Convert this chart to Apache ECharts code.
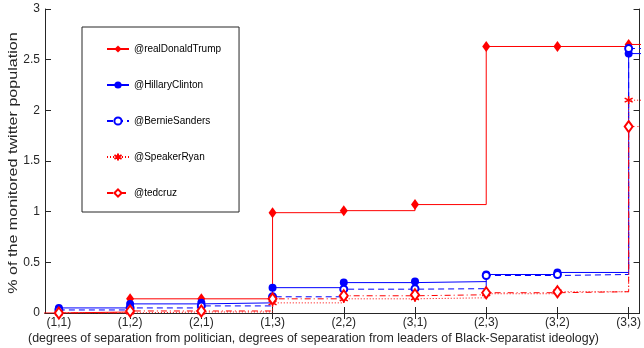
<!DOCTYPE html>
<html>
<head>
<meta charset="utf-8">
<script src="https://cdn.jsdelivr.net/npm/echarts@6/dist/echarts.min.js"></script>
<style>html,body{margin:0;padding:0;background:#fff;}#c{width:644px;height:348px;}</style>
</head>
<body>
<div id="c"></div>
<script>
var categories = ['(1,1)','(1,2)','(2,1)','(1,3)','(2,2)','(3,1)','(2,3)','(3,2)','(3,3)'];
var seriesNames = ['@realDonaldTrump','@HillaryClinton','@BernieSanders','@SpeakerRyan','@tedcruz'];
var trump   = [0.01, 0.14, 0.14, 0.99, 1.01, 1.07, 2.63, 2.63, 2.65];
var hillary = [0.05, 0.09, 0.10, 0.25, 0.30, 0.31, 0.38, 0.40, 2.56];
var bernie  = [0.03, 0.05, 0.07, 0.16, 0.235, 0.24, 0.37, 0.38, 2.61];
var ryan    = [0.00, 0.01, 0.01, 0.10, 0.14, 0.15, 0.19, 0.21, 2.10];
var cruz    = [0.00, 0.02, 0.02, 0.14, 0.17, 0.18, 0.20, 0.21, 1.84];
var yTicks = [0, 0.5, 1, 1.5, 2, 2.5, 3];
var xTitle = '(degrees of separation from politician, degrees of sepearation from leaders of Black-Separatist ideology)';
var yTitle = '% of the monitored twitter population';

var axisCol = '#262626';
var font = 'Liberation Sans, Arial, Helvetica, sans-serif';

function stairData(vals, lead) {
  var d = [];
  if (lead !== undefined) d.push({value: [0, lead], symbol: 'none'});
  vals.forEach(function (v, i) { d.push([i + 1, v]); });
  d.push({value: [vals.length + 1, vals[vals.length - 1]], symbol: 'none'});
  return d;
}

var asterisk = 'path://M0,-5L0,5M-4.33,-2.5L4.33,2.5M-4.33,2.5L4.33,-2.5M-0.01,-0.01L0.01,0.01';

var xVals = categories.map(function (c, i) { return i + 1; });

var option = {
  animation: false,
  backgroundColor: '#fff',
  textStyle: {fontFamily: font},
  grid: {left: 45, right: 0, top: 9, bottom: 35},
  xAxis: [{
    type: 'value', min: 0.805, max: 9.153, position: 'bottom',
    axisLine: {lineStyle: {color: axisCol, width: 1}},
    axisTick: {inside: true, length: 6, lineStyle: {color: axisCol}, customValues: xVals},
    axisLabel: {customValues: xVals, color: axisCol, fontSize: 12, fontFamily: font, margin: 4,
      formatter: function (v) { return categories[Math.round(v) - 1] || ''; }},
    splitLine: {show: false}
  }, {
    type: 'value', min: 0.805, max: 9.153, position: 'top',
    axisLine: {lineStyle: {color: axisCol, width: 1}},
    axisTick: {inside: true, length: 6, lineStyle: {color: axisCol}, customValues: xVals},
    axisLabel: {show: false},
    splitLine: {show: false}
  }],
  yAxis: [{
    type: 'value', min: 0, max: 3, interval: 0.5, position: 'left',
    axisLine: {show: true, lineStyle: {color: axisCol, width: 1}},
    axisTick: {show: true, inside: true, length: 6, lineStyle: {color: axisCol}},
    axisLabel: {color: axisCol, fontSize: 12, fontFamily: font, margin: 5},
    splitLine: {show: false}
  }, {
    type: 'value', min: 0, max: 3, interval: 0.5, position: 'right',
    axisLine: {show: true, lineStyle: {color: axisCol, width: 1}},
    axisTick: {show: true, inside: true, length: 6, lineStyle: {color: axisCol}},
    axisLabel: {show: false},
    splitLine: {show: false}
  }],
  legend: {
    orient: 'vertical', left: 82, top: 27,
    padding: [17, 18, 14, 24],
    itemWidth: 22, itemHeight: 9, itemGap: 26,
    borderColor: axisCol, borderWidth: 1, backgroundColor: '#fff',
    textStyle: {color: '#000', fontSize: 10, fontFamily: font},
    data: seriesNames
  },
  graphic: [{
    type: 'text', left: 28, top: 333,
    style: {text: xTitle, fill: axisCol, font: '12.4px ' + font}
  }, {
    type: 'text', x: 14, y: 163, rotation: Math.PI / 2, scaleX: 1.3,
    style: {text: yTitle, fill: axisCol, font: '12.4px ' + font, align: 'center', verticalAlign: 'middle'}
  }],
  series: [
    {name: seriesNames[0], type: 'line', step: 'end', data: stairData(trump, 0),
     color: '#ff0000', lineStyle: {width: 1, type: 'solid'},
     symbol: 'diamond', symbolSize: [8, 11], itemStyle: {color: '#ff0000'}},
    {name: seriesNames[1], type: 'line', step: 'end', data: stairData(hillary),
     color: '#0000ff', lineStyle: {width: 1, type: 'solid'},
     symbol: 'circle', symbolSize: 8, itemStyle: {color: '#0000ff'}},
    {name: seriesNames[2], type: 'line', step: 'end', data: stairData(bernie),
     color: '#0000ff', lineStyle: {width: 1, type: [6, 4]},
     symbol: 'emptyCircle', symbolSize: 7, itemStyle: {color: '#0000ff', borderWidth: 1}},
    {name: seriesNames[3], type: 'line', step: 'end', data: stairData(ryan),
     color: '#ff0000', lineStyle: {width: 1, type: [1, 2]},
     symbol: asterisk, symbolSize: 8, itemStyle: {color: '#ff0000', borderColor: '#ff0000', borderWidth: 1.5}},
    {name: seriesNames[4], type: 'line', step: 'end', data: stairData(cruz),
     color: '#ff0000', lineStyle: {width: 1, type: [6, 3, 1, 3]},
     symbol: 'emptyDiamond', symbolSize: [8, 11], itemStyle: {color: '#ff0000', borderWidth: 1}}
  ]
};

var chart = echarts.init(document.getElementById('c'), null, {renderer: 'canvas'});
chart.setOption(option);
</script>
</body>
</html>
